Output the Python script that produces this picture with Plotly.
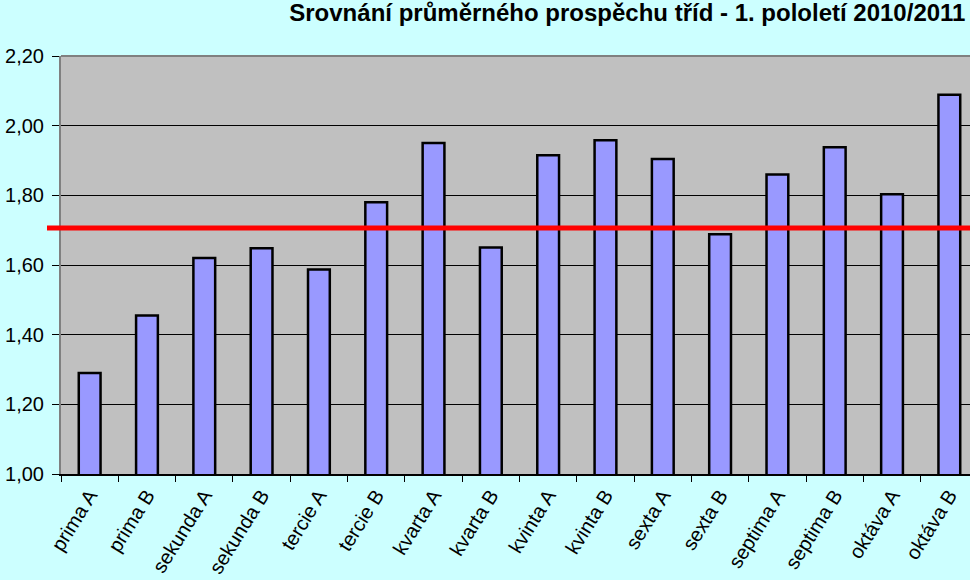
import plotly.graph_objects as go

categories = ["prima A", "prima B", "sekunda A", "sekunda B", "tercie A", "tercie B",
              "kvarta A", "kvarta B", "kvinta A", "kvinta B", "sexta A", "sexta B",
              "septima A", "septima B", "oktáva A", "oktáva B"]
values = [1.29, 1.455, 1.62, 1.648, 1.587, 1.78, 1.95, 1.65,
          1.915, 1.958, 1.904, 1.688, 1.86, 1.938, 1.803, 2.089]
average = 1.706
y_ticks = [1.0, 1.2, 1.4, 1.6, 1.8, 2.0, 2.2]
title_text = "Srovnání průměrného prospěchu tříd - 1. pololetí 2010/2011"

W, H = 970, 580
ML, MT, MB, MR = 61, 56, 106, 0
plot_w = W - ML - MR

fig = go.Figure()
fig.add_trace(go.Bar(
    x=categories, y=values, width=0.38,
    marker=dict(color="#9999FF", line=dict(color="black", width=2.5)),
    showlegend=False, hoverinfo="x+y",
))

fig.add_shape(type="line", xref="paper", yref="y", x0=-14 / plot_w, x1=1,
              y0=average, y1=average, line=dict(color="#FF0000", width=5), layer="above")
# grey top border of the plot area
fig.add_shape(type="line", xref="paper", yref="paper", x0=0, x1=1, y0=1, y1=1,
              line=dict(color="#808080", width=2), layer="above")

fig.update_layout(
    width=W, height=H,
    margin=dict(l=ML, r=MR, t=MT, b=MB, pad=0),
    paper_bgcolor="#CCFFFF", plot_bgcolor="#C0C0C0",
    separators=", ",
    font=dict(family="Liberation Sans, Arial, sans-serif", color="black", size=20),
    title=dict(text="<b>" + title_text + "</b>", x=0.995, xanchor="right", xref="paper",
               y=1 - 4 / H, yanchor="top", yref="container",
               font=dict(size=24, family="Liberation Sans, Arial, sans-serif", color="black")),
    bargap=0.6,
)
fig.update_xaxes(
    range=[-0.5, -0.5 + 16 * plot_w / 917], type="category",
    showline=True, linecolor="black", linewidth=2,
    ticks="outside", ticklen=6, tickcolor="black", tickwidth=1, tickson="boundaries",
    tickangle=-58, tickfont=dict(size=20), showgrid=False, fixedrange=True,
)
fig.update_yaxes(
    range=[1.0, 2.2], tickvals=y_ticks, tickformat=".2f",
    showline=True, linecolor="#808080", linewidth=2,
    ticks="outside", ticklen=7, tickcolor="black", tickwidth=1,
    ticklabelstandoff=4,
    showgrid=True, gridcolor="black", gridwidth=1, zeroline=False,
    tickfont=dict(size=20), fixedrange=True,
)

fig.write_html("out.html")
